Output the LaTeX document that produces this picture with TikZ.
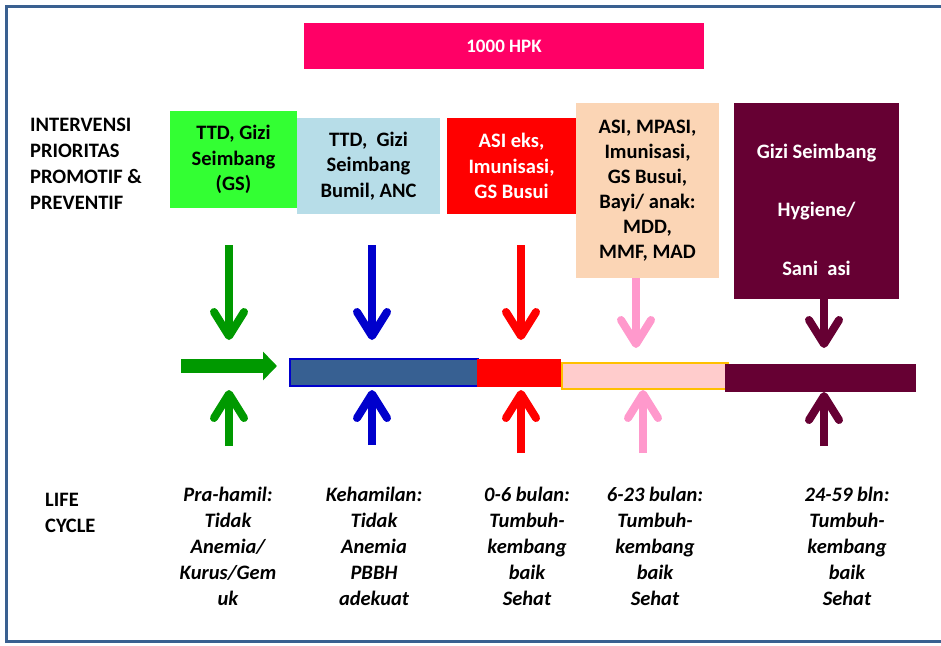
\documentclass[tikz,border=0pt]{standalone}
\usepackage{fontspec}
\setmainfont{Carlito}
\usetikzlibrary{arrows.meta}
\definecolor{frameblue}{HTML}{3A6090}
\definecolor{hpk}{HTML}{FF0066}
\definecolor{gbox}{HTML}{33FF33}
\definecolor{lbbox}{HTML}{B7DDE8}
\definecolor{peach}{HTML}{FBD5B5}
\definecolor{maroon}{HTML}{660033}
\definecolor{agreen}{HTML}{009900}
\definecolor{ablue}{HTML}{0000CC}
\definecolor{apink}{HTML}{FF99CC}
\definecolor{barblue}{HTML}{376092}
\definecolor{barpink}{HTML}{FFCCCC}
\definecolor{barorange}{HTML}{FFC000}
\tikzset{
  box/.style={inner sep=0pt, align=center, font=\bfseries\fontsize{20.5}{25.5}\selectfont},
  lbl/.style={inner sep=0pt, align=left, anchor=west, font=\bfseries\fontsize{20.5}{26}\selectfont},
  life/.style={inner sep=0pt, align=center, font=\bfseries\itshape\fontsize{20.5}{26}\selectfont},
  bar/.style={inner sep=0pt, anchor=north west},
  varrow/.style={line width=8pt, -{Straight Barb[length=24pt,width=30pt,round]}},
}
\begin{document}
\begin{tikzpicture}[x=1pt,y=-1pt]
\useasboundingbox (0,0) rectangle (941,645);
\draw[frameblue, line width=3pt] (950,6) -- (6,6) -- (6,641) -- (950,641);

\node[box, fill=hpk, text=white, minimum width=400pt, minimum height=46pt, font=\bfseries\fontsize{19}{22}\selectfont] (hpk) at (504,46) {1000 HPK};

\node[lbl] (interv) at (30,164) {INTERVENSI\\PRIORITAS\\PROMOTIF \&\\PREVENTIF};
\node[lbl] (lifecycle) at (45,512.5) {LIFE\\CYCLE};

\node[box, fill=gbox, minimum width=127pt, minimum height=97pt] (b1) at (233.5,159.5) {TTD, Gizi\\Seimbang\\(GS)};
\node[box, fill=lbbox, minimum width=143pt, minimum height=96pt] (b2) at (368.5,166) {TTD,\ \ Gizi\\Seimbang\\Bumil, ANC};
\node[box, fill=red, text=white, minimum width=129pt, minimum height=96pt] (b3) at (511.5,166) {ASI eks,\\Imunisasi,\\GS Busui};
\node[box, fill=peach, minimum width=143pt, minimum height=175pt, font=\bfseries\fontsize{20.5}{25}\selectfont] (b4) at (647.5,190.5) {ASI, MPASI,\\Imunisasi,\\GS Busui,\\Bayi/ anak:\\MDD,\\MMF, MAD};
\node[box, fill=maroon, minimum width=165pt, minimum height=196pt] (b5) at (816.5,201) {};
\node[box, text=white, font=\bfseries\fontsize{20.5}{58.5}\selectfont] (b5t) at (816.5,209.5) {Gizi Seimbang\\Hygiene/\\Sani\ \ asi};

% timeline bars
\node[bar, fill=barblue, draw=ablue, line width=1.5pt, minimum width=188pt, minimum height=27pt] (tb1) at (289,358) {};
\node[bar, fill=red, minimum width=84pt, minimum height=28pt] (tb2) at (477,359) {};
\node[bar, fill=barpink, draw=barorange, line width=1.5pt, minimum width=166pt, minimum height=26pt] (tb3) at (561,362) {};
\node[bar, fill=maroon, minimum width=191pt, minimum height=28pt] (tb4) at (725,364) {};

% green horizontal arrow
\coordinate (ga0) at (181,366);
\coordinate (ga1) at (277,366);
\draw[agreen, line width=14pt, -{Triangle[length=14pt,width=28pt]}] (ga0) -- (ga1);

% down arrows
\coordinate (d1s) at (229,245); \coordinate (d1e) at (229,340);
\coordinate (d2s) at (372,245); \coordinate (d2e) at (372,340);
\coordinate (d3s) at (521,245); \coordinate (d3e) at (521,340);
\coordinate (d5e) at (824,348);
\coordinate (d4e) at (636,348);
\draw[varrow, agreen] (d1s) -- (d1e);
\draw[varrow, ablue] (d2s) -- (d2e);
\draw[varrow, red] (d3s) -- (d3e);
\draw[varrow, apink] (b4.south -| d4e) -- (d4e);
\draw[varrow, maroon] (b5.south -| d5e) -- (d5e);

% up arrows
\coordinate (u1s) at (229,446); \coordinate (u1e) at (229,390);
\coordinate (u2s) at (372,445); \coordinate (u2e) at (372,390);
\coordinate (u3s) at (521,453); \coordinate (u3e) at (521,390);
\coordinate (u4s) at (643,453); \coordinate (u4e) at (643,390);
\coordinate (u5s) at (824,446); \coordinate (u5e) at (824,392);
\draw[varrow, agreen] (u1s) -- (u1e);
\draw[varrow, ablue] (u2s) -- (u2e);
\draw[varrow, red] (u3s) -- (u3e);
\draw[varrow, apink] (u4s) -- (u4e);
\draw[varrow, maroon] (u5s) -- (u5e);

% life cycle labels
\node[life] (l1) at (228,546) {Pra-hamil:\\Tidak\\Anemia/\\Kurus/Gem\\uk};
\node[life] (l2) at (374,546) {Kehamilan:\\Tidak\\Anemia\\PBBH\\adekuat};
\node[life] (l3) at (527,546) {0-6 bulan:\\Tumbuh-\\kembang\\baik\\Sehat};
\node[life] (l4) at (655,546) {6-23 bulan:\\Tumbuh-\\kembang\\baik\\Sehat};
\node[life] (l5) at (847,546) {24-59 bln:\\Tumbuh-\\kembang\\baik\\Sehat};
\end{tikzpicture}
\end{document}
